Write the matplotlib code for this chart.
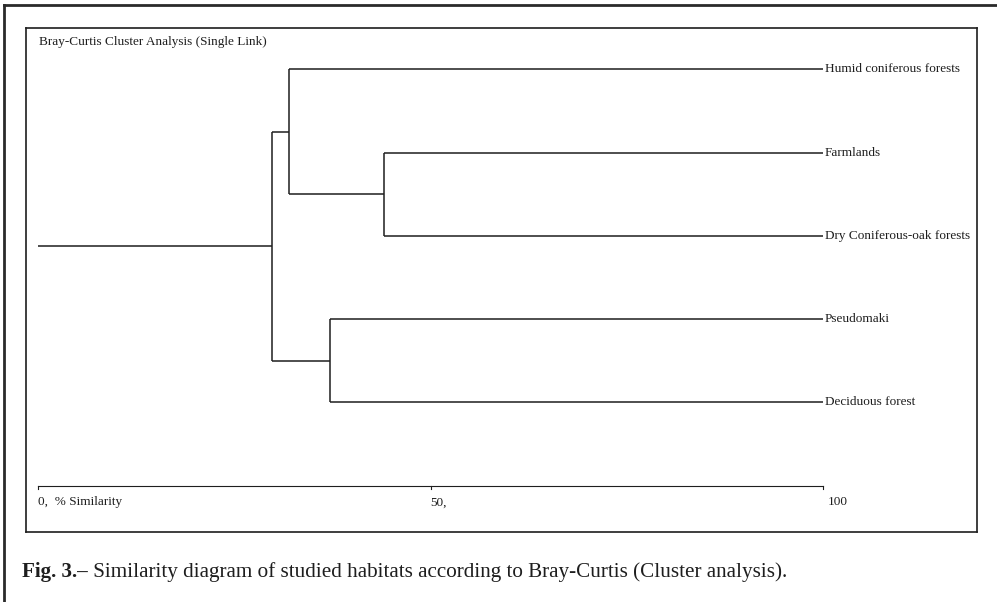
import matplotlib
matplotlib.use("Agg")
import matplotlib.pyplot as plt
from matplotlib.lines import Line2D

plt.rcParams['font.family'] = ['Liberation Serif', 'DejaVu Serif']

# Leaves, top to bottom
habitats = ["Humid coniferous forests", "Farmlands", "Dry Coniferous-oak forests",
            "Pseudomaki", "Deciduous forest"]
# Merges like a scipy linkage: child a, child b, % similarity (new ids start at 5)
merge_a = [1, 3, 0, 6]
merge_b = [2, 4, 5, 7]
merge_sim = [44.1, 37.2, 32.0, 29.8]

tick_values = [0, 50, 100]
tick_labels = ["0,  % Similarity", "50,", "100"]

title = "Bray-Curtis Cluster Analysis (Single Link)"
caption_bold = "Fig. 3.\u2013"
caption_rest = " Similarity diagram of studied habitats according to Bray-Curtis (Cluster analysis)."

ink = "#1e1e1e"

fig = plt.figure(figsize=(9.97, 6.02), dpi=100)
ax = fig.add_axes([26 / 997, 70 / 602, 951 / 997, 504 / 602])

# node positions: leaves sit at 100 % similarity
node_x = [100.0] * len(habitats)
node_y = list(range(len(habitats)))
for a, b, s in zip(merge_a, merge_b, merge_sim):
    # horizontal arms from each child to the merge level
    ax.plot([node_x[a], s], [node_y[a], node_y[a]], color=ink, lw=1.1, solid_capstyle="butt")
    ax.plot([node_x[b], s], [node_y[b], node_y[b]], color=ink, lw=1.1, solid_capstyle="butt")
    # vertical link
    ax.plot([s, s], [node_y[a], node_y[b]], color=ink, lw=1.1, solid_capstyle="butt")
    node_x.append(s)
    node_y.append((node_y[a] + node_y[b]) / 2)

# root stem back to 0 %
ax.plot([0, node_x[-1]], [node_y[-1], node_y[-1]], color=ink, lw=1.1, solid_capstyle="butt")

for i, name in enumerate(habitats):
    ax.text(100.2, i, name, fontsize=9.5, color=ink, va="center", ha="left")

# similarity scale along the bottom
ax.plot([tick_values[0], tick_values[-1]], [5, 5], color=ink, lw=0.8)
for v, lab in zip(tick_values, tick_labels):
    ax.plot([v, v], [5, 5.04], color=ink, lw=0.8)
    ax.text(v + 0.6 if v == 100 else v, 5.2, lab, fontsize=9.5, color=ink, va="center", ha="left")

ax.text(0.1, -0.33, title, fontsize=9.5, color=ink, va="center", ha="left")

ax.set_xlim(-12 / 7.85, 939 / 7.85)
ax.set_ylim(5.555, -0.496)
ax.set_xticks([])
ax.set_yticks([])
for sp in ax.spines.values():
    sp.set_linewidth(1.2)
    sp.set_color(ink)

# outer frame (top and left only)
fig.add_artist(Line2D([3.5 / 997, 1], [1 - 5 / 602, 1 - 5 / 602], transform=fig.transFigure,
                      color="#2a2a2a", lw=2.0))
fig.add_artist(Line2D([3.5 / 997, 3.5 / 997], [0, 1 - 5 / 602], transform=fig.transFigure,
                      color="#2a2a2a", lw=2.0))

# caption: bold label followed by regular text
t1 = fig.text(22 / 997, 1 - 572 / 602, caption_bold, fontsize=15.2, fontweight="bold",
              color=ink, va="center", ha="left")
fig.canvas.draw()
bb = t1.get_window_extent()
fig.text(bb.x1 / fig.bbox.width, 1 - 572 / 602, caption_rest, fontsize=15.2,
         color=ink, va="center", ha="left")

fig.savefig("out.png", dpi=100)
